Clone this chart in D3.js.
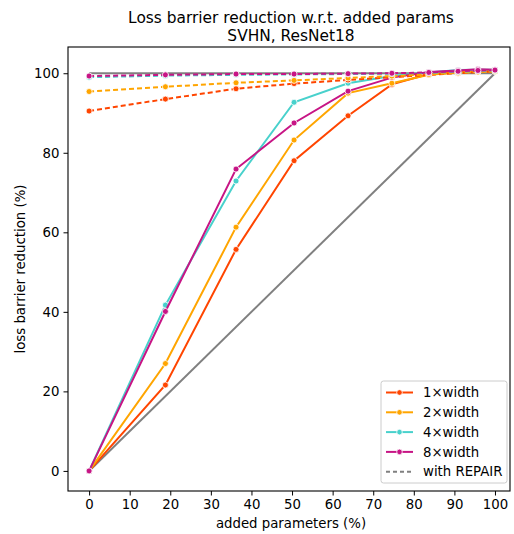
<!DOCTYPE html>
<html>
<head>
<meta charset="utf-8">
<script src="https://cdn.jsdelivr.net/npm/d3@7"></script>
<style>
  html, body { margin: 0; padding: 0; background: #fff; }
  svg { display: block; font-family: "DejaVu Sans", sans-serif; }
</style>
</head>
<body>
<svg id="chart" width="514" height="534"></svg>
<script>
// Added parameters (%) at which each model variant was evaluated
const addedParams = [0, 18.8, 36.2, 50.5, 63.8, 74.6, 83.7, 90.9, 95.8, 100];

// Loss barrier reduction (%) without REPAIR
const plain1x = [0, 21.6, 55.7, 78.0, 89.3, 97.2, 99.8, 100.3, 100.5, 100.6];
const plain2x = [0, 27.0, 61.3, 83.2, 95.0, 97.5, 99.6, 100.2, 100.4, 100.5];
const plain4x = [0, 41.7, 72.9, 92.7, 97.5, 99.3, 100.2, 100.8, 100.9, 100.9];
const plain8x = [0, 40.1, 75.9, 87.5, 95.5, 98.9, 100.3, 100.7, 101.0, 100.9];

// Loss barrier reduction (%) with REPAIR
const repair1x = [90.5, 93.5, 96.1, 97.4, 98.3, 99.0, 99.6, 100.0, 100.3, 100.5];
const repair2x = [95.4, 96.6, 97.6, 98.2, 98.8, 99.3, 99.7, 100.1, 100.3, 100.5];
const repair4x = [99.0, 99.4, 99.6, 99.7, 99.8, 99.9, 100.1, 100.4, 100.6, 100.7];
const repair8x = [99.3, 99.6, 99.8, 99.8, 99.9, 100.0, 100.2, 100.5, 100.7, 100.8];

const widthLabels = ["1×width", "2×width", "4×width", "8×width"];
const widthColors = ["#ff4500", "#ffa500", "#48d1cc", "#c71585"];
const xTicks = [0, 10, 20, 30, 40, 50, 60, 70, 80, 90, 100];
const yTicks = [0, 20, 40, 60, 80, 100];

const plainSeries = [plain1x, plain2x, plain4x, plain8x];
const repairSeries = [repair1x, repair2x, repair4x, repair8x];

const svg = d3.select("#chart");
const box = { left: 68, right: 510, top: 47, bottom: 491 };
const labelSize = "13.3px";

const x = d3.scaleLinear().domain([-5.2, 103.7]).range([box.left, box.right]);
const y = d3.scaleLinear().domain([-5.05, 106.6]).range([box.bottom, box.top]);

// Axes
const xAxis = svg.append("g")
  .attr("transform", `translate(0,${box.bottom})`)
  .call(d3.axisBottom(x).tickValues(xTicks).tickSize(4.5).tickPadding(4).tickFormat(d3.format("d")));
const yAxis = svg.append("g")
  .attr("transform", `translate(${box.left},0)`)
  .call(d3.axisLeft(y).tickValues(yTicks).tickSize(4.5).tickPadding(4).tickFormat(d3.format("d")));
[xAxis, yAxis].forEach(a => {
  a.select(".domain").remove();
  a.selectAll(".tick line").attr("stroke", "#000").attr("stroke-width", 1);
  a.selectAll(".tick text").attr("fill", "#000").style("font-size", labelSize)
    .style("font-family", "DejaVu Sans, sans-serif");
});

// Frame
svg.append("rect")
  .attr("x", box.left).attr("y", box.top)
  .attr("width", box.right - box.left).attr("height", box.bottom - box.top)
  .attr("fill", "none").attr("stroke", "#000").attr("stroke-width", 1.1);

const plot = svg.append("g");

// Reference lines: identity diagonal and the 100% ceiling
const refLine = d3.line().x(d => x(d[0])).y(d => y(d[1]));
plot.append("path").datum([[0, 0], [100, 100]]).attr("d", refLine)
  .attr("fill", "none").attr("stroke", "#808080").attr("stroke-width", 2);
plot.append("path").datum([[0, 100], [100, 100]]).attr("d", refLine)
  .attr("fill", "none").attr("stroke", "#808080").attr("stroke-width", 2);

const line = d3.line().x((d, i) => x(addedParams[i])).y(d => y(d));

function drawSeries(values, color, dashed) {
  plot.append("path").datum(values).attr("d", line)
    .attr("fill", "none").attr("stroke", color).attr("stroke-width", 2)
    .attr("stroke-dasharray", dashed ? "5,3" : null);
  plot.append("g").selectAll("circle").data(values).join("circle")
    .attr("cx", (d, i) => x(addedParams[i])).attr("cy", d => y(d))
    .attr("r", 3).attr("fill", color).attr("stroke", "#fff").attr("stroke-width", 0.8);
}

plainSeries.forEach((s, i) => drawSeries(s, widthColors[i], false));
repairSeries.forEach((s, i) => drawSeries(s, widthColors[i], true));

// Titles and axis labels
svg.append("text").attr("x", 291).attr("y", 22.5).attr("text-anchor", "middle")
  .style("font-size", "15.4px").text("Loss barrier reduction w.r.t. added params");
svg.append("text").attr("x", 291).attr("y", 40.5).attr("text-anchor", "middle")
  .style("font-size", "15.4px").text("SVHN, ResNet18");
svg.append("text").attr("x", 291).attr("y", 528).attr("text-anchor", "middle")
  .style("font-size", labelSize).text("added parameters (%)");
svg.append("text").attr("transform", `translate(25,${(box.top + box.bottom) / 2}) rotate(-90)`)
  .attr("text-anchor", "middle").style("font-size", labelSize).text("loss barrier reduction (%)");

// Legend
const legend = svg.append("g");
legend.append("rect").attr("x", 381).attr("y", 381).attr("width", 126).attr("height", 102)
  .attr("rx", 2.5).attr("fill", "#fff").attr("fill-opacity", 0.8)
  .attr("stroke", "#cccccc").attr("stroke-width", 1);
const legendItems = widthLabels.map((l, i) => ({ label: l, color: widthColors[i], dashed: false }))
  .concat([{ label: "with REPAIR", color: "#808080", dashed: true }]);
legendItems.forEach((it, i) => {
  const cy = 392.5 + i * 19.8;
  legend.append("line").attr("x1", 386).attr("x2", 413).attr("y1", cy).attr("y2", cy)
    .attr("stroke", it.color).attr("stroke-width", 2)
    .attr("stroke-dasharray", it.dashed ? "4,3" : null);
  if (!it.dashed) {
    legend.append("circle").attr("cx", 399.5).attr("cy", cy).attr("r", 2.8)
      .attr("fill", it.color).attr("stroke", "#fff").attr("stroke-width", 0.8);
  }
  legend.append("text").attr("x", 423).attr("y", cy + 4.7)
    .style("font-size", labelSize).text(it.label);
});
</script>
</body>
</html>
